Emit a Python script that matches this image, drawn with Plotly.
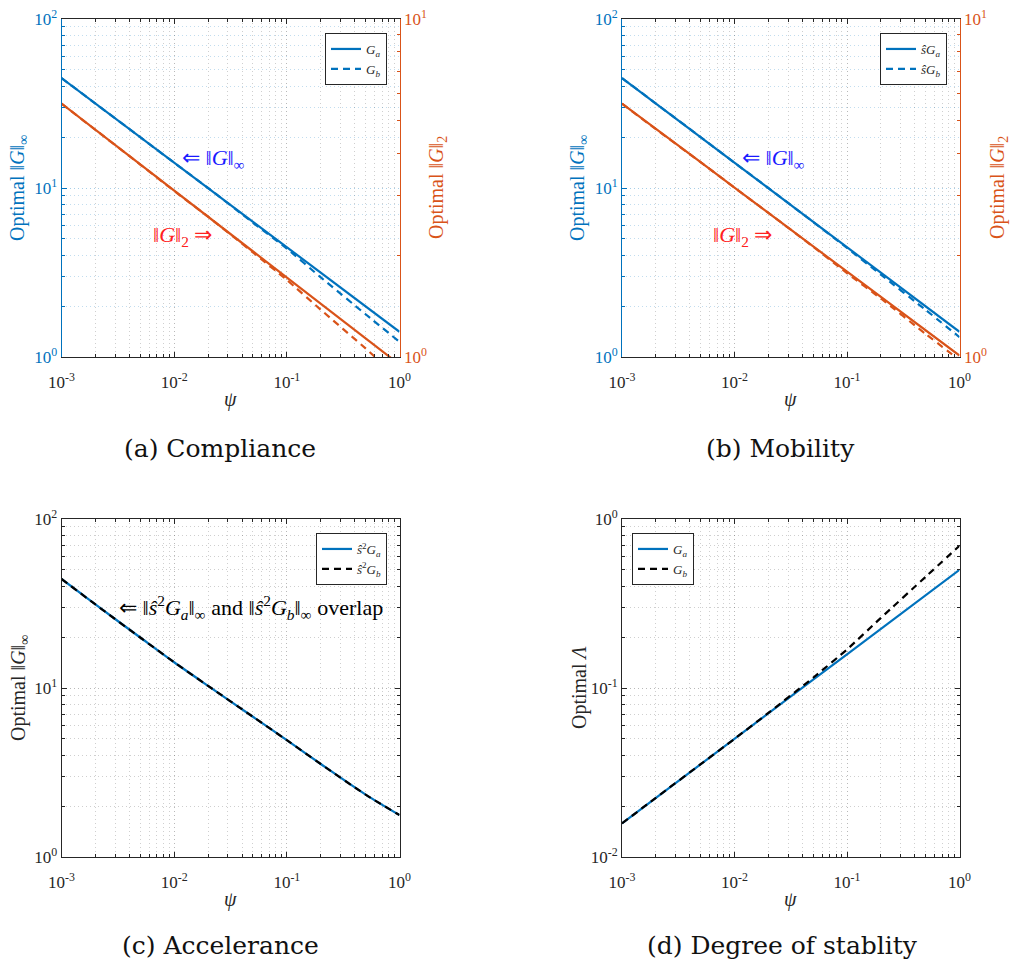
import plotly.graph_objects as go

# ---------------- data ----------------
psi = [0.001, 0.002, 0.005, 0.01, 0.02, 0.05, 0.1, 0.2, 0.5, 1.0]

a_hinf_Ga = [44.7, 31.6, 20.0, 14.1, 10.0, 6.32, 4.47, 3.16, 2.00, 1.41]
a_hinf_Gb = [44.7, 31.6, 20.0, 14.1, 10.0, 6.23, 4.38, 2.96, 1.79, 1.23]
a_h2_Ga = [5.62, 4.70, 3.71, 3.10, 2.60, 2.05, 1.72, 1.44, 1.13, 0.95]
a_h2_Gb = [5.62, 4.70, 3.71, 3.10, 2.60, 2.04, 1.69, 1.38, 1.06, 0.86]

b_hinf_Ga = [44.7, 31.6, 20.0, 14.1, 10.0, 6.32, 4.47, 3.16, 2.00, 1.41]
b_hinf_Gb = [44.7, 31.6, 20.0, 14.1, 10.0, 6.30, 4.42, 3.07, 1.90, 1.31]
b_h2_Ga = [5.62, 4.72, 3.77, 3.17, 2.67, 2.13, 1.79, 1.51, 1.20, 1.01]
b_h2_Gb = [5.62, 4.72, 3.77, 3.17, 2.67, 2.12, 1.77, 1.49, 1.17, 0.98]

c_Ga = [44.2, 31.2, 19.9, 14.2, 10.3, 6.76, 4.91, 3.55, 2.34, 1.77]
c_Gb = [44.2, 31.2, 19.9, 14.2, 10.3, 6.76, 4.91, 3.55, 2.34, 1.77]

d_Ga = [0.0158, 0.0224, 0.0354, 0.050, 0.0707, 0.112, 0.158, 0.224, 0.354, 0.500]
d_Gb = [0.0158, 0.0224, 0.0354, 0.050, 0.0712, 0.115, 0.169, 0.260, 0.455, 0.695]

x_ticks = [0.001, 0.01, 0.1, 1]
x_ticktext = ["10<sup>-3</sup>", "10<sup>-2</sup>", "10<sup>-1</sup>", "10<sup>0</sup>"]
y_ticks_inf = [1, 10, 100]
y_ticktext_inf = ["10<sup>0</sup>", "10<sup>1</sup>", "10<sup>2</sup>"]
y_ticks_2 = [1, 10]
y_ticktext_2 = ["10<sup>0</sup>", "10<sup>1</sup>"]
y_ticks_d = [0.01, 0.1, 1]
y_ticktext_d = ["10<sup>-2</sup>", "10<sup>-1</sup>", "10<sup>0</sup>"]

captions = ["(a) Compliance", "(b) Mobility", "(c) Accelerance", "(d) Degree of stablity"]

# ---------------- styling ----------------
BLUE = "#0072BD"
ORANGE = "#D95319"
DARK = "#262626"
FONT = "Liberation Serif"
CAP_FONT = "DejaVu Serif"
W, H = 1013, 964
LW = 2.2
DASH = "7px,5px"
TICK_SIZE = 17


def minor_vals(lo_exp, hi_exp):
    vals = []
    for e in range(lo_exp, hi_exp):
        for m in range(2, 10):
            vals.append(m * 10.0 ** e)
    return vals


def px_x(a, b):
    return [a / W, b / W]


def px_y(top, bottom):
    return [1 - bottom / H, 1 - top / H]


GRID_MAJ = "rgba(38,38,38,0.32)"
GRID_MIN = "rgba(38,38,38,0.22)"
GRID_MAJ_B = "rgba(0,114,189,0.34)"
GRID_MIN_B = "rgba(0,114,189,0.24)"
GDASH = "1px,3px"


def xaxis_cfg(domain, anchor):
    return dict(
        type="log", range=[-3, 0], domain=domain, anchor=anchor, automargin=False,
        tickvals=x_ticks, ticktext=x_ticktext,
        tickfont=dict(family=FONT, size=TICK_SIZE, color=DARK),
        ticks="inside", ticklen=5, tickcolor=DARK, ticklabelstandoff=10,
        showline=True, linecolor=DARK, linewidth=1, mirror="ticks",
        showgrid=True, gridcolor=GRID_MAJ, griddash=GDASH, gridwidth=1,
        minor=dict(tickvals=minor_vals(-3, 0), ticks="inside", ticklen=3,
                   tickcolor=DARK, showgrid=True, gridcolor=GRID_MIN,
                   griddash=GDASH, gridwidth=1),
        zeroline=False,
    )


def yaxis_cfg(domain, anchor, rng, tv, tt, color, gmaj, gmin, mirror, minorv):
    return dict(
        type="log", range=rng, domain=domain, anchor=anchor, automargin=False,
        tickvals=tv, ticktext=tt,
        tickfont=dict(family=FONT, size=TICK_SIZE, color=color),
        ticks="inside", ticklen=5, tickcolor=color,
        showline=True, linecolor=color, linewidth=1, mirror=mirror,
        showgrid=True, gridcolor=gmaj, griddash=GDASH, gridwidth=1,
        minor=dict(tickvals=minorv, ticks="inside", ticklen=3,
                   tickcolor=color, showgrid=True, gridcolor=gmin,
                   griddash=GDASH, gridwidth=1),
        zeroline=False,
    )


def yaxis_right_cfg(overlay, anchor, rng, tv, tt, color, minorv):
    return dict(
        type="log", range=rng, overlaying=overlay, anchor=anchor, side="right",
        automargin=False,
        tickvals=tv, ticktext=tt,
        tickfont=dict(family=FONT, size=TICK_SIZE, color=color),
        ticks="inside", ticklen=5, tickcolor=color,
        showline=True, linecolor=color, linewidth=1,
        showgrid=False,
        minor=dict(tickvals=minorv, ticks="inside", ticklen=3,
                   tickcolor=color, showgrid=False),
        zeroline=False,
    )


XA = px_x(61.5, 399.5)
XB = px_x(622, 959.5)
YT = px_y(19, 357)
YB = px_y(519, 857)

fig = go.Figure()

sub = lambda s: "<sub>" + s + "</sub>"

# (a)
fig.add_trace(go.Scatter(x=psi, y=a_hinf_Ga, xaxis="x", yaxis="y", mode="lines",
                         line=dict(color=BLUE, width=LW), name="<i>G</i>" + sub("<i>a</i>"), legend="legend"))
fig.add_trace(go.Scatter(x=psi, y=a_hinf_Gb, xaxis="x", yaxis="y", mode="lines",
                         line=dict(color=BLUE, width=LW, dash=DASH, shape="spline", smoothing=0.5),
                         name="<i>G</i>" + sub("<i>b</i>"), legend="legend"))
fig.add_trace(go.Scatter(x=psi, y=a_h2_Ga, xaxis="x", yaxis="y2", mode="lines",
                         line=dict(color=ORANGE, width=LW), showlegend=False))
fig.add_trace(go.Scatter(x=psi, y=a_h2_Gb, xaxis="x", yaxis="y2", mode="lines",
                         line=dict(color=ORANGE, width=LW, dash=DASH, shape="spline", smoothing=0.5),
                         showlegend=False))
# (b)
fig.add_trace(go.Scatter(x=psi, y=b_hinf_Ga, xaxis="x2", yaxis="y3", mode="lines",
                         line=dict(color=BLUE, width=LW), name="<i>ŝG</i>" + sub("<i>a</i>"), legend="legend2"))
fig.add_trace(go.Scatter(x=psi, y=b_hinf_Gb, xaxis="x2", yaxis="y3", mode="lines",
                         line=dict(color=BLUE, width=LW, dash=DASH, shape="spline", smoothing=0.5),
                         name="<i>ŝG</i>" + sub("<i>b</i>"), legend="legend2"))
fig.add_trace(go.Scatter(x=psi, y=b_h2_Ga, xaxis="x2", yaxis="y4", mode="lines",
                         line=dict(color=ORANGE, width=LW), showlegend=False))
fig.add_trace(go.Scatter(x=psi, y=b_h2_Gb, xaxis="x2", yaxis="y4", mode="lines",
                         line=dict(color=ORANGE, width=LW, dash=DASH, shape="spline", smoothing=0.5),
                         showlegend=False))
# (c)
fig.add_trace(go.Scatter(x=psi, y=c_Ga, xaxis="x3", yaxis="y5", mode="lines",
                         line=dict(color=BLUE, width=LW, shape="spline", smoothing=0.8),
                         name="<i>ŝ</i><sup>2</sup><i>G</i>" + sub("<i>a</i>"), legend="legend3"))
fig.add_trace(go.Scatter(x=psi, y=c_Gb, xaxis="x3", yaxis="y5", mode="lines",
                         line=dict(color="black", width=LW, dash=DASH, shape="spline", smoothing=0.8),
                         name="<i>ŝ</i><sup>2</sup><i>G</i>" + sub("<i>b</i>"), legend="legend3"))
# (d)
fig.add_trace(go.Scatter(x=psi, y=d_Ga, xaxis="x4", yaxis="y6", mode="lines",
                         line=dict(color=BLUE, width=LW), name="<i>G</i>" + sub("<i>a</i>"), legend="legend4"))
fig.add_trace(go.Scatter(x=psi, y=d_Gb, xaxis="x4", yaxis="y6", mode="lines",
                         line=dict(color="black", width=LW, dash=DASH, shape="spline", smoothing=0.5),
                         name="<i>G</i>" + sub("<i>b</i>"), legend="legend4"))

legend_base = dict(bgcolor="white", bordercolor=DARK, borderwidth=1,
                   font=dict(family=FONT, size=13, color=DARK),
                   xanchor="right", yanchor="top", tracegroupgap=0, itemwidth=30)

fig.update_layout(
    width=W, height=H, autosize=False,
    margin=dict(l=0, r=0, t=0, b=0, autoexpand=False),
    paper_bgcolor="white", plot_bgcolor="white",
    font=dict(family=FONT, color=DARK),
    xaxis=xaxis_cfg(XA, "y"),
    yaxis=yaxis_cfg(YT, "x", [0, 2], y_ticks_inf, y_ticktext_inf, BLUE, GRID_MAJ_B, GRID_MIN_B, False, minor_vals(0, 2)),
    yaxis2=yaxis_right_cfg("y", "x", [0, 1], y_ticks_2, y_ticktext_2, ORANGE, minor_vals(0, 1)),
    xaxis2=xaxis_cfg(XB, "y3"),
    yaxis3=yaxis_cfg(YT, "x2", [0, 2], y_ticks_inf, y_ticktext_inf, BLUE, GRID_MAJ_B, GRID_MIN_B, False, minor_vals(0, 2)),
    yaxis4=yaxis_right_cfg("y3", "x2", [0, 1], y_ticks_2, y_ticktext_2, ORANGE, minor_vals(0, 1)),
    xaxis3=xaxis_cfg(XA, "y5"),
    yaxis5=yaxis_cfg(YB, "x3", [0, 2], y_ticks_inf, y_ticktext_inf, DARK, GRID_MAJ, GRID_MIN, "ticks", minor_vals(0, 2)),
    xaxis4=xaxis_cfg(XB, "y6"),
    yaxis6=yaxis_cfg(YB, "x4", [-2, 0], y_ticks_d, y_ticktext_d, DARK, GRID_MAJ, GRID_MIN, "ticks", minor_vals(-2, 0)),
    legend=dict(legend_base, x=387 / W, y=1 - 33 / H),
    legend2=dict(legend_base, x=947 / W, y=1 - 33 / H),
    legend3=dict(legend_base, x=387 / W, y=1 - 533 / H),
    legend4=dict(legend_base, x=694 / W, y=1 - 533 / H),
    showlegend=True,
)

ann = []


def add_text(x, y, text, size, color, angle=0, family=FONT, xanchor="center"):
    ann.append(dict(x=x / W, y=1 - y / H, xref="paper", yref="paper", text=text,
                    showarrow=False, font=dict(family=family, size=size, color=color),
                    textangle=angle, xanchor=xanchor, yanchor="middle"))


# axis titles
for cx in (230, 790):
    add_text(cx, 399, "<i>ψ</i>", 20, DARK)
    add_text(cx, 899, "<i>ψ</i>", 20, DARK)
add_text(19, 188, "Optimal ‖<i>G</i>‖<sub>∞</sub>", 20, BLUE, -90)
add_text(579, 188, "Optimal ‖<i>G</i>‖<sub>∞</sub>", 20, BLUE, -90)
add_text(438, 188, "Optimal ‖<i>G</i>‖<sub>2</sub>", 20, ORANGE, -90)
add_text(999, 188, "Optimal ‖<i>G</i>‖<sub>2</sub>", 20, ORANGE, -90)
add_text(19, 688, "Optimal ‖<i>G</i>‖<sub>∞</sub>", 20, DARK, -90)
add_text(579, 688, "Optimal <i>Λ</i>", 20, DARK, -90)

# in-plot annotations
add_text(180, 159, "⇐ ‖<i>G</i>‖<sub>∞</sub>", 22, "#1a1aff", xanchor="left")
add_text(740, 159, "⇐ ‖<i>G</i>‖<sub>∞</sub>", 22, "#1a1aff", xanchor="left")
add_text(151, 236, "‖<i>G</i>‖<sub>2</sub> ⇒", 22, "#ff2020", xanchor="left")
add_text(711, 236, "‖<i>G</i>‖<sub>2</sub> ⇒", 22, "#ff2020", xanchor="left")
add_text(117, 607, "⇐ ‖<i>ŝ</i><sup>2</sup><i>G</i><sub><i>a</i></sub>‖<sub>∞</sub> and ‖<i>ŝ</i><sup>2</sup><i>G</i><sub><i>b</i></sub>‖<sub>∞</sub> overlap",
         22, "black", xanchor="left")

# captions
add_text(220, 448, captions[0], 25, "#111111", family=CAP_FONT)
add_text(780, 448, captions[1], 25, "#111111", family=CAP_FONT)
add_text(220, 945, captions[2], 25, "#111111", family=CAP_FONT)
add_text(782, 945, captions[3], 25, "#111111", family=CAP_FONT)

fig.update_layout(annotations=ann)
fig.write_html("out.html", config={"displayModeBar": False},
               post_script="document.body.style.margin='0';document.body.style.overflow='hidden';")
